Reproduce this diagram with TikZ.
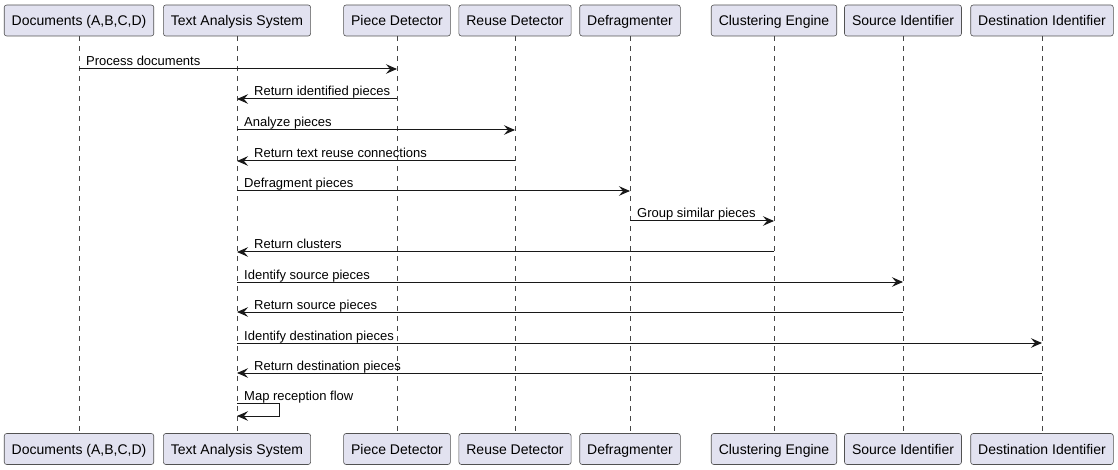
\documentclass[tikz,border=0pt]{standalone}
\usepackage{fontspec}
\setmainfont{Liberation Sans}
\usetikzlibrary{positioning}
\usetikzlibrary{arrows.meta}
\tikzset{>={Stealth[length=11pt,width=9.5pt,inset=4pt]}}
\definecolor{partfill}{HTML}{E2E2F0}
\definecolor{partline}{HTML}{181818}

\begin{document}
\begin{tikzpicture}[x=1pt, y=-1pt, part/.style={rectangle, rounded corners=2.5pt, draw=partline!75, fill=partfill, line width=0.6pt, minimum height=31pt, inner xsep=7.5pt, text height=12pt, text depth=1pt, font=\fontsize{14pt}{16pt}\selectfont}, life/.style={draw=partline!80, line width=0.5pt, dash pattern=on 5pt off 5pt}, msg/.style={->, draw=partline, line width=1pt}, lbl/.style={anchor=base west, inner sep=0pt, font=\fontsize{13pt}{15pt}\selectfont}]
    
    \useasboundingbox (0,0) rectangle (1118,470);
    
    %Nodes
    \node[part](docs) at (79,20.5){Documents (A,B,C,D)};
    \node[part](tas) at (237,20.5){Text Analysis System};
    \node[part](piece) at (397,20.5){Piece Detector};
    \node[part](reuse) at (515,20.5){Reuse Detector};
    \node[part](defrag) at (630,20.5){Defragmenter};
    \node[part](cluster) at (774,20.5){Clustering Engine};
    \node[part](source) at (903,20.5){Source Identifier};
    \node[part](dest) at (1042,20.5){Destination Identifier};
    
    \node[part](docsB) at (79,449){Documents (A,B,C,D)};
    \node[part](tasB) at (237,449){Text Analysis System};
    \node[part](pieceB) at (397,449){Piece Detector};
    \node[part](reuseB) at (515,449){Reuse Detector};
    \node[part](defragB) at (630,449){Defragmenter};
    \node[part](clusterB) at (774,449){Clustering Engine};
    \node[part](sourceB) at (903,449){Source Identifier};
    \node[part](destB) at (1042,449){Destination Identifier};
    
    %Rows
    \coordinate(r1) at (0,69);
    \coordinate(r2) at (0,99);
    \coordinate(r3) at (0,130);
    \coordinate(r4) at (0,161);
    \coordinate(r5) at (0,191);
    \coordinate(r6) at (0,221);
    \coordinate(r7) at (0,252);
    \coordinate(r8) at (0,282);
    \coordinate(r9) at (0,312);
    \coordinate(r10) at (0,343);
    \coordinate(r11) at (0,373);
    \coordinate(r12) at (0,403);
    \coordinate(r12b) at (0,416);
    \coordinate(loopx) at (279,0);
    
    %Lifelines
    \draw[life] (docs.south) -- (docsB.north);
    \draw[life] (tas.south) -- (tasB.north);
    \draw[life] (piece.south) -- (pieceB.north);
    \draw[life] (reuse.south) -- (reuseB.north);
    \draw[life] (defrag.south) -- (defragB.north);
    \draw[life] (cluster.south) -- (clusterB.north);
    \draw[life] (source.south) -- (sourceB.north);
    \draw[life] (dest.south) -- (destB.north);
    
    %Lines
    \draw[msg] (docs |- r1) -- (piece |- r1);
    \draw[msg] (piece |- r2) -- (tas |- r2);
    \draw[msg] (tas |- r3) -- (reuse |- r3);
    \draw[msg] (reuse |- r4) -- (tas |- r4);
    \draw[msg] (tas |- r5) -- (defrag |- r5);
    \draw[msg] (defrag |- r6) -- (cluster |- r6);
    \draw[msg] (cluster |- r7) -- (tas |- r7);
    \draw[msg] (tas |- r8) -- (source |- r8);
    \draw[msg] (source |- r9) -- (tas |- r9);
    \draw[msg] (tas |- r10) -- (dest |- r10);
    \draw[msg] (dest |- r11) -- (tas |- r11);
    \draw[msg] (tas |- r12) -- (loopx |- r12) -- (loopx |- r12b) -- (tas |- r12b);
    
    %Labels
    \node[lbl](l1) at ([xshift=7pt,yshift=3pt]docs |- r1){Process documents};
    \node[lbl](l2) at ([xshift=17pt,yshift=3pt]tas |- r2){Return identified pieces};
    \node[lbl](l3) at ([xshift=7pt,yshift=3pt]tas |- r3){Analyze pieces};
    \node[lbl](l4) at ([xshift=17pt,yshift=3pt]tas |- r4){Return text reuse connections};
    \node[lbl](l5) at ([xshift=7pt,yshift=3pt]tas |- r5){Defragment pieces};
    \node[lbl](l6) at ([xshift=7pt,yshift=3pt]defrag |- r6){Group similar pieces};
    \node[lbl](l7) at ([xshift=17pt,yshift=3pt]tas |- r7){Return clusters};
    \node[lbl](l8) at ([xshift=7pt,yshift=3pt]tas |- r8){Identify source pieces};
    \node[lbl](l9) at ([xshift=17pt,yshift=3pt]tas |- r9){Return source pieces};
    \node[lbl](l10) at ([xshift=7pt,yshift=3pt]tas |- r10){Identify destination pieces};
    \node[lbl](l11) at ([xshift=17pt,yshift=3pt]tas |- r11){Return destination pieces};
    \node[lbl](l12) at ([xshift=7pt,yshift=3pt]tas |- r12){Map reception flow};
    
\end{tikzpicture}
\end{document}
